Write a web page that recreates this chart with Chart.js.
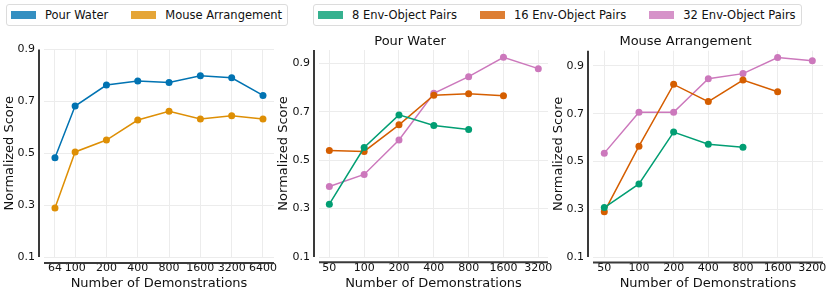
<!DOCTYPE html>
<html>
<head>
<meta charset="utf-8">
<script src="https://cdn.jsdelivr.net/npm/chart.js@4/dist/chart.umd.min.js"></script>
<style>
  body { margin: 0; width: 830px; height: 295px; background: #fff; position: relative; overflow: hidden;
         font-family: "DejaVu Sans", sans-serif; }
  canvas { position: absolute; top: 30px; }
  .legend { position: absolute; top: 4px; height: 22px; border: 1px solid #dcdcdc; border-radius: 3px;
            display: flex; align-items: center; padding: 0 5px 0 4px; box-sizing: border-box;
            font-size: 11.5px; color: #111; white-space: nowrap; }
  .legend .item { display: flex; align-items: center; margin-left: 23px; }
  .legend .item:first-child { margin-left: 0; }
  .legend .patch { width: 25px; height: 8px; margin-right: 9px; }
</style>
</head>
<body>
<div class="legend" id="legend1" style="left:6px;"></div>
<div class="legend" id="legend2" style="left:313px;"></div>
<canvas id="c1" width="282" height="265" style="left:0px;"></canvas>
<canvas id="c2" width="282" height="265" style="left:272px;"></canvas>
<canvas id="c3" width="282" height="265" style="left:548px;"></canvas>
<script>
// number of demonstrations
const demosTask = [64, 100, 200, 400, 800, 1600, 3200, 6400];
const demosPairs = [50, 100, 200, 400, 800, 1600, 3200];
const yTicks = [0.1, 0.3, 0.5, 0.7, 0.9];

// left panel: per task
const taskNames = ['Pour Water', 'Mouse Arrangement'];
const pourWaterScores = [0.483, 0.682, 0.763, 0.779, 0.773, 0.799, 0.791, 0.723];
const mouseArrScores = [0.289, 0.505, 0.551, 0.628, 0.662, 0.632, 0.645, 0.632];

// middle / right panels: per number of env-object pairs
const pairNames = ['8 Env-Object Pairs', '16 Env-Object Pairs', '32 Env-Object Pairs'];
const pour8 = [0.318, 0.552, 0.687, 0.643, 0.627];
const pour16 = [0.540, 0.536, 0.646, 0.768, 0.774, 0.766];
const pour32 = [0.391, 0.441, 0.583, 0.776, 0.845, 0.925, 0.878];
const mouse8 = [0.307, 0.406, 0.623, 0.572, 0.560];
const mouse16 = [0.289, 0.564, 0.823, 0.751, 0.841, 0.792];
const mouse32 = [0.535, 0.706, 0.706, 0.847, 0.868, 0.935, 0.922];

const taskColors = ['#0173b2', '#de8f05'];
const pairColors = ['#029e73', '#d55e00', '#cc78bc'];
const legendColors1 = ['rgba(1,115,178,0.8)', 'rgba(222,143,5,0.8)'];
const legendColors2 = ['rgba(2,158,115,0.8)', 'rgba(213,94,0,0.8)', 'rgba(204,120,188,0.8)'];

const FONT = 'DejaVu Sans';
const TEXT = '#111';

function buildLegend(id, names, colors) {
    const el = document.getElementById(id);
    names.forEach((n, i) => {
        const item = document.createElement('div');
        item.className = 'item';
        item.innerHTML = `<div class="patch" style="background:${colors[i]}"></div><span>${n}</span>`;
        el.appendChild(item);
    });
}
buildLegend('legend1', taskNames, legendColors1);
buildLegend('legend2', pairNames, legendColors2);

// offset spines like seaborn despine(offset=...)
const spines = {
    id: 'spines',
    afterDraw(chart, args, opts) {
        const {ctx, chartArea: a} = chart;
        ctx.save();
        ctx.strokeStyle = '#3a3a3a';
        ctx.lineWidth = 2;
        ctx.beginPath();
        ctx.moveTo(a.left - opts.dy, a.top);
        ctx.lineTo(a.left - opts.dy, a.bottom);
        ctx.stroke();
        ctx.beginPath();
        ctx.moveTo(a.left, a.bottom + opts.dx);
        ctx.lineTo(a.right, a.bottom + opts.dx);
        ctx.stroke();
        ctx.restore();
    }
};

function series(xs, ys, label, color) {
    return {
        label: label,
        data: ys.map((v, i) => ({x: xs[i], y: v})),
        borderColor: color,
        backgroundColor: color,
        borderWidth: 1.5,
        pointRadius: 3.5,
        pointBorderWidth: 0,
        pointBackgroundColor: color,
        tension: 0
    };
}

function makeChart(id, cfg) {
    return new Chart(document.getElementById(id), {
        type: 'line',
        data: {datasets: cfg.datasets},
        options: {
            responsive: false,
            animation: false,
            layout: {padding: {top: cfg.padTop, right: cfg.padRight, left: 0, bottom: 0}},
            scales: {
                x: {
                    type: 'logarithmic',
                    min: cfg.xMin,
                    max: cfg.xMax,
                    afterBuildTicks: s => { s.ticks = cfg.xTicks.map(v => ({value: v})); },
                    afterFit: s => { s.height = 38; s.paddingLeft = 0; s.paddingRight = 0; },
                    ticks: {
                        autoSkip: false, maxRotation: 0, padding: 5,
                        color: TEXT, font: {family: FONT, size: 11},
                        callback: v => String(v)
                    },
                    grid: {color: '#ececec', lineWidth: 1, drawTicks: false},
                    border: {display: false},
                    title: {
                        display: true, text: 'Number of Demonstrations', color: TEXT,
                        font: {family: FONT, size: 13}, padding: {top: 0, bottom: 4}
                    }
                },
                y: {
                    min: 0.1,
                    max: cfg.yMax,
                    afterBuildTicks: s => { s.ticks = yTicks.map(v => ({value: v})); },
                    afterFit: s => { s.width = cfg.yWidth; s.paddingTop = 0; s.paddingBottom = 0; },
                    ticks: {
                        padding: 9, color: TEXT, font: {family: FONT, size: 11},
                        callback: v => v.toFixed(1)
                    },
                    grid: {color: '#ececec', lineWidth: 1, drawTicks: false},
                    border: {display: false},
                    title: {
                        display: true, text: 'Normalized Score', color: TEXT,
                        font: {family: FONT, size: 13}, padding: {top: cfg.yTitlePad, bottom: 0}
                    }
                }
            },
            plugins: {
                legend: {display: false},
                tooltip: {enabled: false},
                title: {
                    display: !!cfg.title, text: cfg.title, color: TEXT,
                    font: {family: FONT, size: 13, weight: 'normal'},
                    padding: {top: 4, bottom: cfg.titleGap || 0}
                },
                spines: {dx: cfg.dx, dy: 5}
            }
        },
        plugins: [spines]
    });
}

makeChart('c1', {
    datasets: [
        series(demosTask, pourWaterScores, taskNames[0], taskColors[0]),
        series(demosTask, mouseArrScores, taskNames[1], taskColors[1])
    ],
    xTicks: demosTask, xMin: 50.2, xMax: 8167, yMax: 0.9,
    padTop: 19.5, padRight: 8, yWidth: 44, yTitlePad: 2.2, dx: 6
});

makeChart('c2', {
    title: 'Pour Water',
    datasets: [
        series(demosPairs, pour8, pairNames[0], pairColors[0]),
        series(demosPairs, pour16, pairNames[1], pairColors[1]),
        series(demosPairs, pour32, pairNames[2], pairColors[2])
    ],
    xTicks: demosPairs, xMin: 40.7, xMax: 3882, yMax: 0.955,
    padTop: 0, padRight: 6, yWidth: 47, yTitlePad: 4.2, dx: 5.3, titleGap: 0.4
});

makeChart('c3', {
    title: 'Mouse Arrangement',
    datasets: [
        series(demosPairs, mouse8, pairNames[0], pairColors[0]),
        series(demosPairs, mouse16, pairNames[1], pairColors[1]),
        series(demosPairs, mouse32, pairNames[2], pairColors[2])
    ],
    xTicks: demosPairs, xMin: 39.9, xMax: 3962, yMax: 0.964,
    padTop: 0, padRight: 7, yWidth: 45, yTitlePad: 3.2, dx: 5.4, titleGap: 1.1
});
</script>
</body>
</html>
